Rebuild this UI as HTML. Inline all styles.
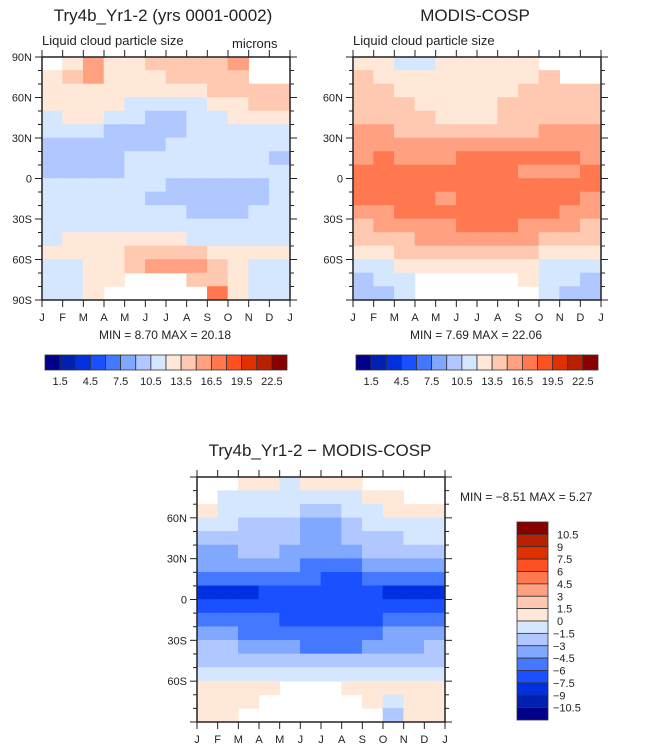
<!DOCTYPE html>
<html><head><meta charset="utf-8">
<style>
html,body{margin:0;padding:0;background:#fff;}
svg{display:block;font-family:"Liberation Sans",sans-serif;}
</style></head>
<body>
<svg id="fig" width="646" height="753" viewBox="0 0 646 753"></svg>
<script>
const months=["J","F","M","A","M","J","J","A","S","O","N","D","J"];
const lats=[85,75,65,55,45,35,25,15,5,-5,-15,-25,-35,-45,-55,-65,-75,-85];
const N=null;
const modelVals=[
[N,13,15,13,13,13.5,14,14,14,15,N,N],
[13,14,15,13,13,13,13.5,14,14,14,N,N],
[12.5,12.5,13,12.5,12,12,12,13,13.5,14,14.5,14],
[12.5,12.5,12.5,12,11.5,11,11,11.5,12.5,13,13.5,13.5],
[11.5,12,12,11,10.5,10,10,11,11.5,12,12.5,12.5],
[11,11,10.5,10.2,10,10,10,10.5,11,11,11,11],
[10,10,10,10,10,10,11,11,11,11,11,10.5],
[10,10,10,10,10.5,11,11,11,11,11,10.5,10],
[10,9,9,10,11,11,11,11,11,11,11,10.5],
[11,11,11,11,11,11,10,10,10,10,10,10.5],
[11,11,11,11,11,10,10,10,10,10,10,11],
[11,11,11,11,11,11,11,10,10,10,11,11],
[11,11,11,11,11,11,11,11,11,11,11,11],
[11.5,12,12.5,12.5,12.5,12.5,12,11.5,11.5,11.5,11.5,11.5],
[12.5,12.5,13,13,13.5,14,14,14,13,12.5,12,12],
[11,11.5,12.5,13,14,15,15.5,15.5,14,12.5,11,11],
[11,11,12,13,N,N,N,14,14,12.5,11,11],
[10.5,11,12,N,N,N,N,N,17,13,11,10.5]];
const modisVals=[
[13,12.5,11.5,11.5,12,13,13,13,13,N,N,N],
[13.5,13,12.5,12.5,12.5,13,13,13,13,14,N,N],
[14,13.5,13,13,13,13,13,13,13.5,14,14,14],
[14,14,13.5,13,13,13,13,13.5,14,14,14.5,14.5],
[14.5,14.5,14,13.5,13,13,13,13.5,14,14.5,14.5,14.5],
[15,15,14.5,14,14,14,14,14,14.5,15,15,15],
[15.5,15.5,15,15,15,15,15,15,15,15.5,15.5,15.5],
[16,16.5,16,16,16,16.5,16.5,16.5,16.5,16.5,16.5,16],
[17,17,17,17,17,17,17,16.5,16,16,16,17],
[17,17,16.5,16.5,17,17,17,17,17,16.5,16.5,17],
[16.5,16.5,17,16.5,16,16.5,17,17,17,17,16.5,16],
[15.5,16,16.5,16.5,17,17,17,17,17,16.5,16,15.5],
[14.5,15,15,15.5,16,16.5,17,16.5,16,15.5,15,14.5],
[14,14,14.5,15,15,15,15,15,15,14.5,14,14],
[13,13,13.5,14,14,14,14,14,13.5,13,12.5,12.5],
[11,11,12,13,13,13,13,13,12.5,11.5,11,11],
[10,10.5,11,N,N,N,N,N,12,11,10.5,10],
[9.5,10,11,N,N,N,N,N,N,11,10,9.5]];
const diffVals=[
[N,N,1,0.5,-0.5,0.5,1,1,N,N,N,N],
[N,-0.5,-0.5,-1,-1,-1,-0.5,-0.5,0.5,0.5,N,N],
[0.5,-1,-1,-1,-1.5,-2,-2,-1,-1,0.5,0.5,0.5],
[-1,-1,-2,-2,-2,-3.5,-3.5,-2,-1,-1,-1,-1],
[-2,-2,-2,-2.5,-2.5,-3.5,-3.5,-3,-2,-2,-1,-1],
[-3.5,-3.5,-3,-3,-3.5,-4,-4,-3.5,-3,-3,-3,-2],
[-4,-4,-4,-4,-4.5,-5,-5,-5,-4.5,-4,-4,-4],
[-5,-5,-5,-5,-5.5,-6,-6.5,-6.5,-6,-5,-5,-5],
[-8,-8,-8,-7.5,-7,-7,-7,-7,-7,-8,-8,-8],
[-7,-7,-7,-7,-7,-7,-7,-7,-7,-7,-7,-7],
[-5,-5,-6,-6,-6.5,-6.5,-6.5,-6.5,-6.5,-6,-5,-5],
[-4,-4,-5,-5,-5,-5.5,-5.5,-5.5,-5,-4.5,-4,-4],
[-3,-3,-3.5,-4,-4.5,-5,-5,-5,-4,-4,-3.5,-3],
[-2,-2,-2,-2.5,-2.5,-3,-3,-3,-2.5,-2,-2,-2],
[-1,-1,-1,-1,-1,-1,-1,-1,-1,-1,-1,-1],
[0.5,0.5,0.5,0.5,N,N,N,1,0.5,0.5,0.5,0.5],
[1,1,0.5,N,N,N,N,N,0.5,-1,0.5,1],
[0.5,0.5,N,N,N,N,N,N,N,-2,0.5,1]];
const absTicks=["1.5","4.5","7.5","10.5","13.5","16.5","19.5","22.5"];
const diffTicks=["10.5","9","7.5","6","4.5","3","1.5","0","\u22121.5","\u22123","\u22124.5","\u22126","\u22127.5","\u22129","\u221210.5"];
const colors=["#00008a","#0020b0","#0030e0","#1a50ff","#4478ff","#80a8ff","#b0c8ff","#d5e6ff","#ffe8d8","#ffc8b0","#ffa080","#ff7850","#ff5020","#e03000","#b82000","#880000"];

const NS="http://www.w3.org/2000/svg";
const svg=document.getElementById("fig");
function mk(tag,attrs,parent){const e=document.createElementNS(NS,tag);for(const k in attrs)e.setAttribute(k,attrs[k]);(parent||svg).appendChild(e);return e;}
function txt(s,x,y,size,anchor,parent){const t=mk("text",{x:x,y:y,"font-size":size,"text-anchor":anchor||"start",fill:"#222"},parent);t.textContent=s;return t;}

function panel(name,x0,y0,w,h,vals,levelFn,latLabels){
  const g=mk("g",{});
  
  
  const xs=m=>x0+m*w/12;
  const ys=lat=>y0+(90-lat)*h/180;
  vals.forEach((row,i)=>{row.forEach((v,j)=>{
    if(v===null)return;
    const r=mk("rect",{x:xs(j)-0.3,y:ys(lats[i]+5)-0.3,width:w/12+0.6,height:ys(lats[i]-5)-ys(lats[i]+5)+0.6,fill:colors[levelFn(v)]},g);
    
    
  });});
  mk("rect",{x:x0,y:y0,width:w,height:h,fill:"none",stroke:"#222","stroke-width":1.5},g);
  for(let m=0;m<=12;m++){const x=xs(m);
    mk("line",{x1:x,y1:y0+h,x2:x,y2:y0+h+7,stroke:"#222"},g);
    mk("line",{x1:x,y1:y0,x2:x,y2:y0-7,stroke:"#222"},g);
    txt(months[m],x,y0+h+21,11,"middle",g);}
  for(let lat=-90;lat<=90;lat+=10){const y=ys(lat);const major=lat%30===0;
    mk("line",{x1:x0-(major?7:4),y1:y,x2:x0,y2:y,stroke:"#222"},g);
    mk("line",{x1:x0+w,y1:y,x2:x0+w+(major?7:4),y2:y,stroke:"#222"},g);
    if(major&&latLabels.includes(lat)){const lab=lat===0?"0":Math.abs(lat)+(lat>0?"N":"S");
      txt(lab,x0-10,y+4,11,"end",g);}}
  return g;
}
const absLevel=v=>Math.max(0,Math.min(15,Math.floor(v/1.5)));
const diffLevel=v=>Math.max(0,Math.min(15,Math.floor((v+10.5)/1.5)+1));

txt("Try4b_Yr1-2 (yrs 0001-0002)",163,21,17,"middle");
txt("Liquid cloud particle size",42,45,13);
txt("microns",232,48,13);
panel("model-plot",42,57,248,243,modelVals,absLevel,[90,60,30,0,-30,-60,-90]);
txt("MIN =    8.70 MAX =   20.18",165,339,12,"middle");

txt("MODIS-COSP",475,21,17,"middle");
txt("Liquid cloud particle size",353,45,13);
panel("modis-plot",353,57,248,243,modisVals,absLevel,[60,30,0,-30,-60]);
txt("MIN =    7.69 MAX =   22.06",476,339,12,"middle");

function hbar(name,x0,y0,w,h){
  const g=mk("g",{});
  
  
  const bw=w/16;
  colors.forEach((c,i)=>{mk("rect",{x:x0+i*bw,y:y0,width:bw,height:h,fill:c,stroke:"#333","stroke-width":0.8},g);});
  absTicks.forEach((t,k)=>{txt(t,x0+(2*k+1)*bw,y0+h+15,11,"middle",g);});
}
hbar("left-colorbar",45,355,242,15);
hbar("right-colorbar",356,355,242,15);

txt("Try4b_Yr1-2 \u2212 MODIS-COSP",320,456,17,"middle");
panel("diff-plot",197,477,248,245,diffVals,diffLevel,[60,30,0,-30,-60]);
txt("MIN =  \u22128.51  MAX =    5.27",460,501,12);
(function(){
  const g=mk("g",{});
  
  
  const x0=517,y0=522,w=31,bh=198/16;
  for(let i=0;i<16;i++){mk("rect",{x:x0,y:y0+i*bh,width:w,height:bh,fill:colors[15-i],stroke:"#333","stroke-width":0.8},g);}
  diffTicks.forEach((t,k)=>{const y=y0+(k+1)*bh;txt(t,t.startsWith("\u2212")?553:557,y+4,11,"start",g);});
})();
</script>
</body></html>
